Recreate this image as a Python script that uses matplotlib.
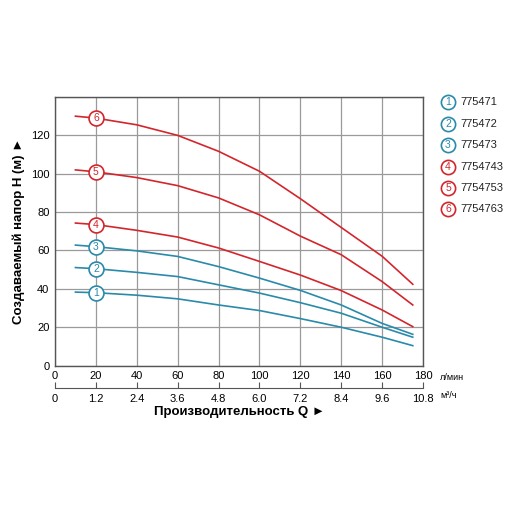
import numpy as np
import matplotlib
matplotlib.use("Agg")
import matplotlib.pyplot as plt

plt.rcParams['font.family'] = ['Liberation Sans', 'DejaVu Sans']

# flow (l/min) where the curves were read
q = [10, 20, 40, 60, 80, 100, 120, 140, 160, 175]
# head H (m) for each pump
h1 = [38.3, 38, 36.7, 34.8, 31.6, 28.7, 24.5, 20, 14.8, 10.4]
h2 = [51.1, 50.5, 48.6, 46.4, 42.1, 37.8, 32.8, 27.3, 20, 14.8]
h3 = [62.8, 62, 59.8, 56.9, 51.6, 45.6, 39.2, 31.6, 22, 16.3]
h4 = [74.3, 73.5, 70.5, 67, 61.3, 54.3, 47.2, 39.1, 29, 20.3]
h5 = [102, 101, 98, 93.8, 87.4, 78.6, 67.5, 57.8, 43.8, 31.6]
h6 = [130, 129, 125.5, 120, 111.7, 101.3, 87, 72, 57, 42.4]
curves = [h1, h2, h3, h4, h5, h6]
models = ['775471', '775472', '775473', '7754743', '7754753', '7754763']
marker_q = 20

x_ticks = [0, 20, 40, 60, 80, 100, 120, 140, 160, 180]
y_ticks = [0, 20, 40, 60, 80, 100, 120]
m3_ticks = [0, 1.2, 2.4, 3.6, 4.8, 6.0, 7.2, 8.4, 9.6, 10.8]

blue = '#2a8aaa'
red = '#d3262c'
colors = [blue, blue, blue, red, red, red]

fig = plt.figure(figsize=(5.12, 5.12), dpi=100)
ax = fig.add_axes([55/512, 1 - 365.6/512, 368/512, (365.6 - 97)/512])

for i, h in enumerate(curves):
    ax.plot(q, h, color=colors[i], lw=1.2, zorder=3)
    ym = h[q.index(marker_q)]
    ax.scatter([marker_q], [ym], s=115, facecolor='white', edgecolor=colors[i],
               linewidth=1.2, zorder=4)
    ax.text(marker_q, ym, str(i + 1), color=colors[i], fontsize=7.5,
            ha='center', va='center', zorder=5)

ax.set_xlim(0, 180)
ax.set_ylim(0, 140)
ax.set_xticks(x_ticks)
ax.set_yticks(y_ticks + [140], labels=[str(v) for v in y_ticks] + [''])
ax.grid(True, color='#9a9a9a', lw=0.9)
ax.set_axisbelow(True)
ax.tick_params(length=0, labelsize=8, pad=4)
for s in ax.spines.values():
    s.set_color('#555555')
    s.set_linewidth(1.0)
ax.set_ylabel('Создаваемый напор H (м) ►', fontsize=9.5, fontweight='bold',
              labelpad=4)
fig.text(440/512, 1 - 378/512, 'л/мин', fontsize=6.5, va='center')

# second flow scale in m3/h
ax2 = fig.add_axes([55/512, 1 - 388/512, 368/512, 0.0001])
ax2.set_xlim(0, 10.8)
ax2.set_xticks(m3_ticks, labels=[f'{v:.1f}' if v else '0' for v in m3_ticks])
ax2.set_yticks([])
for s in ['top', 'left', 'right']:
    ax2.spines[s].set_visible(False)
ax2.spines['bottom'].set_color('#555555')
ax2.tick_params(axis='x', direction='in', length=4, labelsize=8, pad=4,
                color='#555555')
ax2.set_xlabel('Производительность Q ►', fontsize=9.5, fontweight='bold',
               labelpad=2)
fig.text(440/512, 1 - 395/512, 'м³/ч', fontsize=6.5, va='center')

# legend on the right
lax = fig.add_axes([0, 0, 1, 1], facecolor='none')
lax.set_xlim(0, 512)
lax.set_ylim(512, 0)
lax.axis('off')
for i, name in enumerate(models):
    yy = 102.3 + i * 21.4
    lax.scatter([448], [yy], s=105, facecolor='white', edgecolor=colors[i],
                linewidth=1.2)
    lax.text(448, yy, str(i + 1), color=colors[i], fontsize=7.5,
             ha='center', va='center')
    lax.text(460, yy, name, fontsize=8, va='center', color='#222222')

fig.savefig('out.png', dpi=100)
